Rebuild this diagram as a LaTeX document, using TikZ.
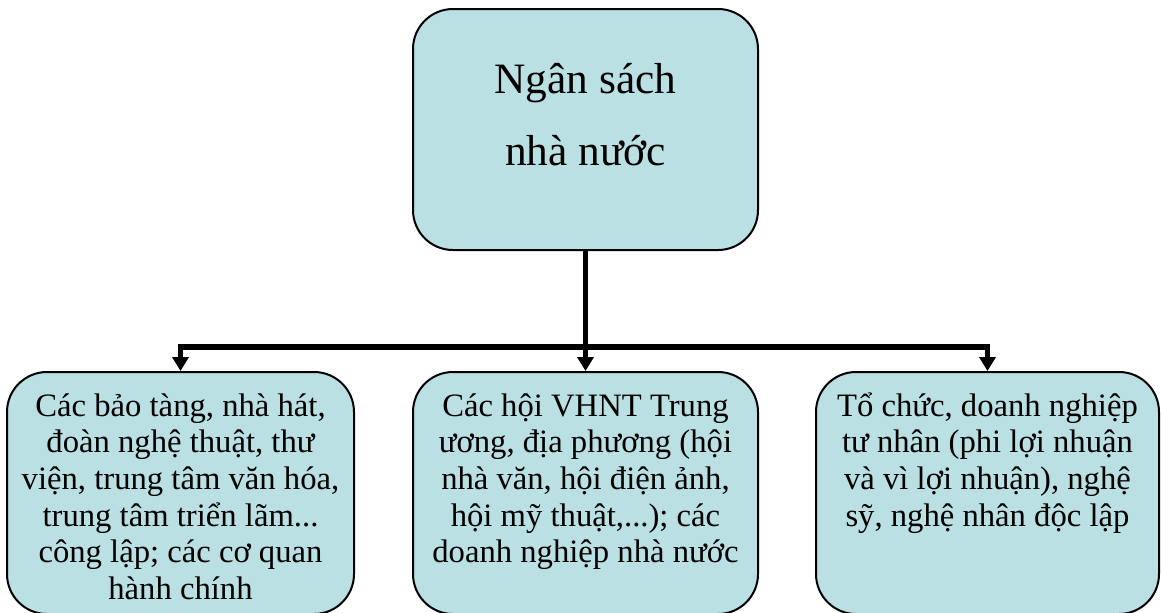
\documentclass[tikz,border=0pt]{standalone}
\usepackage{fontspec}
\setmainfont{Liberation Serif}
\usetikzlibrary{arrows.meta}
\definecolor{boxblue}{RGB}{186,224,227}
\tikzset{
  fundbox/.style={draw=black, line width=1.5pt, fill=boxblue, rounded corners=30pt, inner sep=0pt},
  boxtext/.style={align=center, inner sep=0pt, anchor=base, font=\fontsize{24.5}{27.5}\selectfont},
  bus/.style={line width=4pt, -{Triangle[width=12pt,length=10.5pt]}},
}
\begin{document}
\begin{tikzpicture}[x=0.75pt, y=-0.75pt]
    \useasboundingbox (0,0) rectangle (1161,612) ;
    \node[fundbox, minimum width=258.75pt, minimum height=180.75pt] (nsnn) at (585.5,129.5) {} ;
    \node[boxtext, font=\fontsize{32.5}{54}\selectfont] (nsnnText) at (585.5,165) {Ngân sách\\nhà nước} ;
    \node[fundbox, minimum width=260.25pt, minimum height=181.5pt] (conglap) at (180.5,493) {} ;
    \node[fundbox, minimum width=258.75pt, minimum height=181.5pt] (hoi) at (585.5,493) {} ;
    \node[fundbox, minimum width=257.25pt, minimum height=181.5pt] (tunhan) at (987.5,493) {} ;
    \node[boxtext] (conglapText) at (180.5,599.5) {Các bảo tàng, nhà hát,\\đoàn nghệ thuật, thư\\viện, trung tâm văn hóa,\\trung tâm triển lãm...\\công lập; các cơ quan\\hành chính} ;
    \node[boxtext] (hoiText) at (585.5,562.8) {Các hội VHNT Trung\\ương, địa phương (hội\\nhà văn, hội điện ảnh,\\hội mỹ thuật,...); các\\doanh nghiệp nhà nước} ;
    \node[boxtext] (tunhanText) at (987.5,526.1) {Tổ chức, doanh nghiệp\\tư nhân (phi lợi nhuận\\và vì lợi nhuận), nghệ\\sỹ, nghệ nhân độc lập} ;
    \coordinate (bus) at (585.5,347) ;
    \draw[bus] (nsnn.south) -- (hoi.north) ;
    \draw[bus] (bus) -| (conglap.north) ;
    \draw[bus] (bus) -| (tunhan.north) ;
\end{tikzpicture}
\end{document}
